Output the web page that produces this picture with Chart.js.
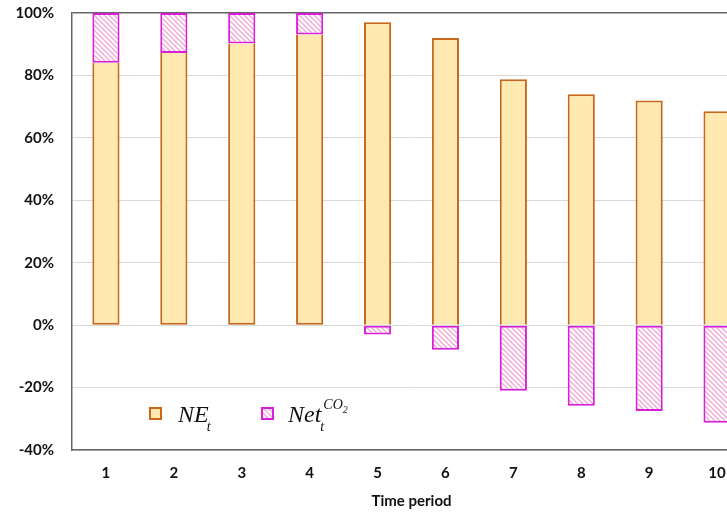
<!DOCTYPE html>
<html>
<head>
<meta charset="utf-8">
<script src="https://cdn.jsdelivr.net/npm/chart.js@4.4.1/dist/chart.umd.min.js"></script>
<style>
    html, body { margin: 0; padding: 0; background: #fff; overflow: hidden; }
    #wrap { width: 755px; height: 526px; margin-top: -14px; }
</style>
</head>
<body>
<div id="wrap"><canvas id="chart"></canvas></div>
<script>
// Share of each period (percent)
const periods = ['1', '2', '3', '4', '5', '6', '7', '8', '9', '10'];
const neValues = [84.1, 87.2, 90.2, 93.1, 97, 92, 78.8, 74, 72, 68.5];
const netCo2Values = [15.9, 12.8, 9.8, 6.9, -3, -7.9, -21, -25.8, -27.5, -31.3];
const yTicks = [-40, -20, 0, 20, 40, 60, 80, 100];

const ORANGE = '#C8661A';
const ORANGE_FILL = '#FFE9B0';
const MAGENTA = '#D81ED8';

// diagonal pink hatch on white
function makeHatch() {
    const c = document.createElement('canvas');
    c.width = 5; c.height = 5;
    const g = c.getContext('2d');
    g.fillStyle = '#ffffff';
    g.fillRect(0, 0, 5, 5);
    g.strokeStyle = '#F4A6D4';
    g.lineWidth = 1.4;
    g.beginPath();
    g.moveTo(-1, -1); g.lineTo(6, 6);
    g.moveTo(-4, 1); g.lineTo(4, 9);
    g.moveTo(1, -4); g.lineTo(9, 4);
    g.stroke();
    return g.createPattern(c, 'repeat');
}
const hatch = makeHatch();

// NE bars drop the edge that touches the CO2 segment
function neBorder(ctx) {
    const co2 = netCo2Values[ctx.dataIndex];
    return {
        left: 2, right: 2,
        top: co2 > 0 ? 0 : 2,
        bottom: co2 < 0 ? 0 : 2
    };
}

// legend with sub/superscripts drawn inside the plot
const mathLegend = {
    id: 'mathLegend',
    afterDraw(chart) {
        const ctx = chart.ctx;
        const big = 'italic 24px "Liberation Serif"';
        const small = 'italic 14px "Liberation Serif"';
        ctx.save();
        ctx.translate(0, 14);
        ctx.textBaseline = 'alphabetic';
        // NE_t
        ctx.fillStyle = ORANGE_FILL;
        ctx.fillRect(150, 408, 11, 11);
        ctx.strokeStyle = ORANGE;
        ctx.lineWidth = 2;
        ctx.strokeRect(150, 408, 11, 11);
        ctx.fillStyle = '#111';
        ctx.font = big;
        ctx.fillText('NE', 178, 422);
        let w = ctx.measureText('NE').width;
        ctx.font = small;
        ctx.fillText('t', 178 + w - 2, 431);
        // Net_t^{CO2}
        ctx.fillStyle = hatch;
        ctx.fillRect(262, 408, 11, 11);
        ctx.strokeStyle = MAGENTA;
        ctx.strokeRect(262, 408, 11, 11);
        ctx.fillStyle = '#111';
        ctx.font = big;
        ctx.fillText('Net', 288, 422);
        w = ctx.measureText('Net').width;
        ctx.font = small;
        ctx.fillText('t', 288 + w - 1, 431);
        ctx.fillText('CO', 288 + w + 2, 409);
        const wc = ctx.measureText('CO').width;
        ctx.font = 'italic 10px "Liberation Serif"';
        ctx.fillText('2', 288 + w + 2 + wc, 413);
        ctx.restore();
    }
};

new Chart(document.getElementById('chart'), {
    type: 'bar',
    data: {
        labels: periods,
        datasets: [
            {
                label: 'NE',
                data: neValues,
                backgroundColor: ORANGE_FILL,
                borderColor: ORANGE,
                borderWidth: neBorder,
                borderSkipped: false,
                barPercentage: 0.8,
                categoryPercentage: 0.5
            },
            {
                label: 'Net CO2',
                data: netCo2Values,
                backgroundColor: hatch,
                borderColor: MAGENTA,
                borderWidth: 2,
                borderSkipped: false,
                barPercentage: 0.8,
                categoryPercentage: 0.5
            }
        ]
    },
    options: {
        responsive: true,
        maintainAspectRatio: false,
        animation: false,
        layout: { padding: { top: 0, right: 4, left: 0, bottom: 2 } },
        plugins: {
            legend: { display: false },
            tooltip: { enabled: false }
        },
        scales: {
            x: {
                stacked: true,
                grid: { display: false },
                border: { color: '#666', width: 1.5 },
                ticks: {
                    color: '#111',
                    font: { family: 'Lato', weight: 'bold', size: 15 },
                    padding: 6
                },
                title: {
                    display: true,
                    text: 'Time period',
                    color: '#111',
                    font: { family: 'Lato', weight: 'bold', size: 15 },
                    padding: { top: 4, bottom: 0 }
                }
            },
            y: {
                stacked: true,
                min: -40,
                max: 100,
                afterBuildTicks(scale) {
                    scale.ticks = yTicks.map(v => ({ value: v }));
                },
                afterFit(scale) { scale.width = 72; },
                grid: {
                    color: ctx => ctx.tick && ctx.tick.value === 100 ? '#666' : '#D9D9D9',
                    lineWidth: ctx => ctx.tick && ctx.tick.value === 100 ? 1.5 : 1,
                    drawTicks: false
                },
                border: { color: '#666', width: 1.5 },
                ticks: {
                    color: '#111',
                    font: { family: 'Lato', weight: 'bold', size: 15 },
                    padding: 18,
                    callback: v => v + '%'
                }
            }
        }
    },
    plugins: [mathLegend]
});
</script>
</body>
</html>
